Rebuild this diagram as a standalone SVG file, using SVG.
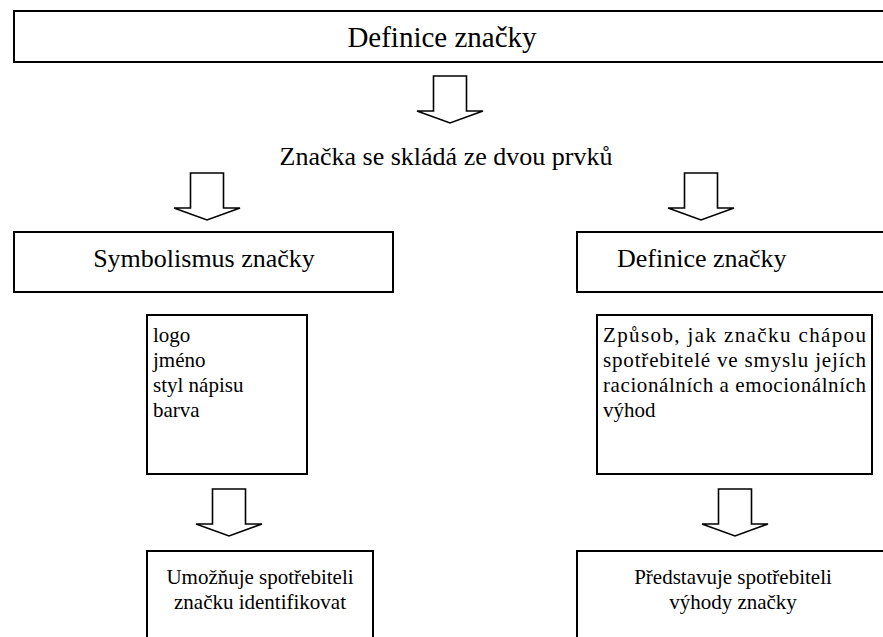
<svg xmlns="http://www.w3.org/2000/svg" width="883" height="637" viewBox="0 0 883 637">
  <style>
    .box { fill: #ffffff; stroke: #000000; stroke-width: 2; }
    .arrow { fill: #ffffff; stroke: #000000; stroke-width: 1.6; stroke-linejoin: miter; }
    text { font-family: "Liberation Serif", "Times New Roman", serif; fill: #000000; }
    .title { font-size: 29px; }
    .head { font-size: 26px; }
    .body { font-size: 21px; }
    .mid { text-anchor: middle; }
  </style>
  <defs>
    <!-- hollow block arrow pointing down, origin at the top centre of the shaft -->
    <polygon id="down" class="arrow" points="-16.5,0 16.5,0 16.5,35 33,35 0,47 -33,35 -16.5,35"/>
  </defs>

  <rect width="883" height="637" fill="#ffffff"/>

  <g id="connectors">
    <use href="#down" x="450" y="76"/>
    <use href="#down" x="207" y="173"/>
    <use href="#down" x="701" y="173"/>
    <use href="#down" x="229" y="489"/>
    <use href="#down" x="735" y="489"/>
  </g>

  <g id="brand-definition">
    <rect class="box" x="14" y="11" width="880" height="51"/>
    <text class="title mid" x="442" y="47">Definice značky</text>
  </g>

  <g id="two-elements">
    <text class="head mid" x="446" y="165">Značka se skládá ze dvou prvků</text>
  </g>

  <g id="symbolism">
    <rect class="box" x="14" y="232" width="379" height="60"/>
    <text class="head mid" x="204" y="267">Symbolismus značky</text>
  </g>

  <g id="definition">
    <rect class="box" x="577" y="232" width="317" height="60"/>
    <text class="head" x="617" y="267">Definice značky</text>
  </g>

  <g id="symbol-list">
    <rect class="box" x="147" y="315" width="160" height="159"/>
    <text class="body" x="153" y="342">logo</text>
    <text class="body" x="153" y="367">jméno</text>
    <text class="body" x="153" y="392">styl nápisu</text>
    <text class="body" x="153" y="417">barva</text>
  </g>

  <g id="perception">
    <rect class="box" x="597" y="315" width="275" height="159"/>
    <text class="body" x="603" y="342" textLength="263" lengthAdjust="spacing">Způsob, jak značku chápou</text>
    <text class="body" x="603" y="367" textLength="263" lengthAdjust="spacing">spotřebitelé ve smyslu jejích</text>
    <text class="body" x="603" y="392" textLength="263" lengthAdjust="spacing">racionálních a emocionálních</text>
    <text class="body" x="603" y="417">výhod</text>
  </g>

  <g id="identify">
    <rect class="box" x="147" y="551" width="226" height="100"/>
    <text class="body mid" x="260" y="584">Umožňuje spotřebiteli</text>
    <text class="body mid" x="260" y="609">značku identifikovat</text>
  </g>

  <g id="benefits">
    <rect class="box" x="577" y="551" width="320" height="100"/>
    <text class="body mid" x="733" y="584">Představuje spotřebiteli</text>
    <text class="body mid" x="733" y="609">výhody značky</text>
  </g>
</svg>
